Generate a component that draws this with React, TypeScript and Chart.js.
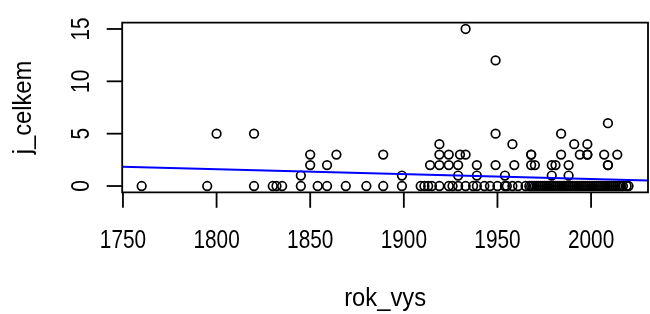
import React, { useEffect, useRef } from "react";
import { Chart, registerables } from "chart.js";

Chart.register(...registerables);

// rok_vys (x) and j_celkem (y) of every observation
const rokVys = [
  1760, 1795, 1800, 1820, 1820, 1830, 1832, 1835, 1845, 1845, 1850, 1850, 1854, 1859, 1859, 1864, 1869, 1880,
  1889, 1889, 1899, 1899, 1909, 1911, 1913, 1914, 1915, 1919, 1919, 1919, 1919, 1924, 1924, 1924, 1926, 1929,
  1929, 1929, 1930, 1933, 1933, 1933, 1937, 1939, 1939, 1939, 1943, 1946, 1949, 1949, 1949, 1950, 1954, 1954,
  1955, 1958, 1958, 1959, 1961, 1965, 1967, 1968, 1968, 1968, 1968, 1969, 1970, 1970, 1971, 1972, 1973, 1974,
  1975, 1976, 1977, 1978, 1979, 1979, 1979, 1980, 1981, 1981, 1982, 1983, 1984, 1984, 1984, 1985, 1986, 1987,
  1988, 1988, 1988, 1989, 1990, 1991, 1991, 1992, 1993, 1994, 1994, 1995, 1996, 1997, 1998, 1998, 1998, 1998,
  1999, 2000, 2001, 2002, 2003, 2004, 2005, 2006, 2007, 2007, 2008, 2009, 2009, 2009, 2009, 2010, 2011, 2012,
  2013, 2014, 2014, 2015, 2016, 2017, 2019, 2020,
];
const jCelkem = [
  0, 0, 5, 5, 0, 0, 0, 0, 0, 1, 3, 2, 0, 0, 2, 3, 0, 0,
  3, 0, 1, 0, 0, 0, 0, 2, 0, 0, 2, 3, 4, 0, 2, 3, 0, 0,
  1, 2, 3, 0, 3, 15, 0, 0, 1, 2, 0, 0, 12, 5, 2, 0, 1, 0,
  0, 4, 0, 2, 0, 0, 0, 0, 3, 3, 2, 0, 0, 2, 0, 0, 0, 0,
  0, 0, 0, 0, 0, 2, 1, 0, 0, 2, 0, 0, 0, 5, 3, 0, 0, 0,
  0, 2, 1, 0, 0, 0, 4, 0, 0, 0, 3, 0, 0, 0, 0, 4, 3, 3,
  0, 0, 0, 0, 0, 0, 0, 0, 0, 3, 0, 0, 6, 2, 2, 0, 0, 0,
  0, 0, 3, 0, 0, 0, 0, 0,
];

// fitted line j_celkem ~ rok_vys
const lmIntercept = 10.0;
const lmSlope = -0.004665;

const xRange = [1749.6, 2030.4];
const yRange = [-0.6, 15.6];
const xTickStep = 50;
const yTickStep = 5;
const xTitle = "rok_vys";
const yTitle = "j_celkem";

const FONT = '"Liberation Sans", Arial, sans-serif';

function drawText(
  ctx: CanvasRenderingContext2D,
  text: string,
  x: number,
  y: number,
  angle: number,
  size: number,
  squeeze: number
) {
  ctx.save();
  ctx.translate(x, y);
  ctx.rotate(angle);
  ctx.scale(squeeze, 1);
  ctx.font = `${size}px ${FONT}`;
  ctx.textAlign = "center";
  ctx.textBaseline = "alphabetic";
  ctx.fillStyle = "#000";
  ctx.fillText(text, 0, 0);
  ctx.restore();
}

const rAxesPlugin = {
  id: "rAxes",
  afterDraw(chart: any) {
    const { ctx, chartArea: a, scales } = chart;
    const xs = scales.x;
    const ys = scales.y;
    ctx.save();
    ctx.strokeStyle = "#000";
    ctx.lineWidth = 1.8;
    ctx.beginPath();
    ctx.rect(a.left, a.top, a.right - a.left, a.bottom - a.top);
    ctx.stroke();
    const tick = 15.5;
    // x axis
    xs.ticks.forEach((t: any) => {
      const px = xs.getPixelForValue(t.value);
      ctx.beginPath();
      ctx.moveTo(px, a.bottom);
      ctx.lineTo(px, a.bottom + tick);
      ctx.stroke();
      drawText(ctx, String(t.value), px, a.bottom + 56, 0, 26, 0.8);
    });
    // y axis
    ys.ticks.forEach((t: any) => {
      const py = ys.getPixelForValue(t.value);
      ctx.beginPath();
      ctx.moveTo(a.left - tick, py);
      ctx.lineTo(a.left, py);
      ctx.stroke();
      drawText(ctx, String(t.value), a.left - 33.5, py, -Math.PI / 2, 26, 0.8);
    });
    ctx.restore();
    const midX = xs.getPixelForValue((xRange[0] + xRange[1]) / 2);
    const midY = ys.getPixelForValue((yRange[0] + yRange[1]) / 2);
    drawText(ctx, xTitle, midX, a.bottom + 114, 0, 25, 0.95);
    drawText(ctx, yTitle, 31, midY, -Math.PI / 2, 25, 0.95);
  },
};

export default function App() {
  const ref = useRef<HTMLCanvasElement>(null);
  useEffect(() => {
    if (!ref.current) return;
    const points = rokVys.map((x, i) => ({ x, y: jCelkem[i] }));
    const line = xRange.map((x) => ({ x, y: lmIntercept + lmSlope * x }));
    const chart = new Chart(ref.current, {
      type: "scatter",
      data: {
        datasets: [
          {
            type: "line",
            data: line,
            borderColor: "#0000ff",
            borderWidth: 2,
            pointRadius: 0,
            fill: false,
          } as any,
          {
            data: points,
            pointStyle: "circle",
            pointRadius: 4.3,
            borderColor: "#000",
            borderWidth: 1.7,
            backgroundColor: "rgba(0,0,0,0)",
          },
        ],
      },
      options: {
        responsive: false,
        animation: false,
        devicePixelRatio: 1,
        layout: { padding: { left: 122.2, top: 22.7, right: 0, bottom: 121.7 } },
        scales: {
          x: {
            type: "linear",
            display: false,
            min: xRange[0],
            max: xRange[1],
            ticks: { stepSize: xTickStep, includeBounds: false },
          },
          y: {
            type: "linear",
            display: false,
            min: yRange[0],
            max: yRange[1],
            ticks: { stepSize: yTickStep, includeBounds: false },
          },
        },
        plugins: { legend: { display: false }, tooltip: { enabled: false } },
      },
      plugins: [rAxesPlugin],
    });
    return () => chart.destroy();
  }, []);
  return (
    <div
      style={{
        position: "fixed",
        left: 0,
        top: 0,
        width: 650,
        height: 314,
        overflow: "hidden",
        background: "#fff",
      }}
    >
      <canvas ref={ref} width={654} height={314} style={{ display: "block", width: 654, height: 314 }} />
    </div>
  );
}
